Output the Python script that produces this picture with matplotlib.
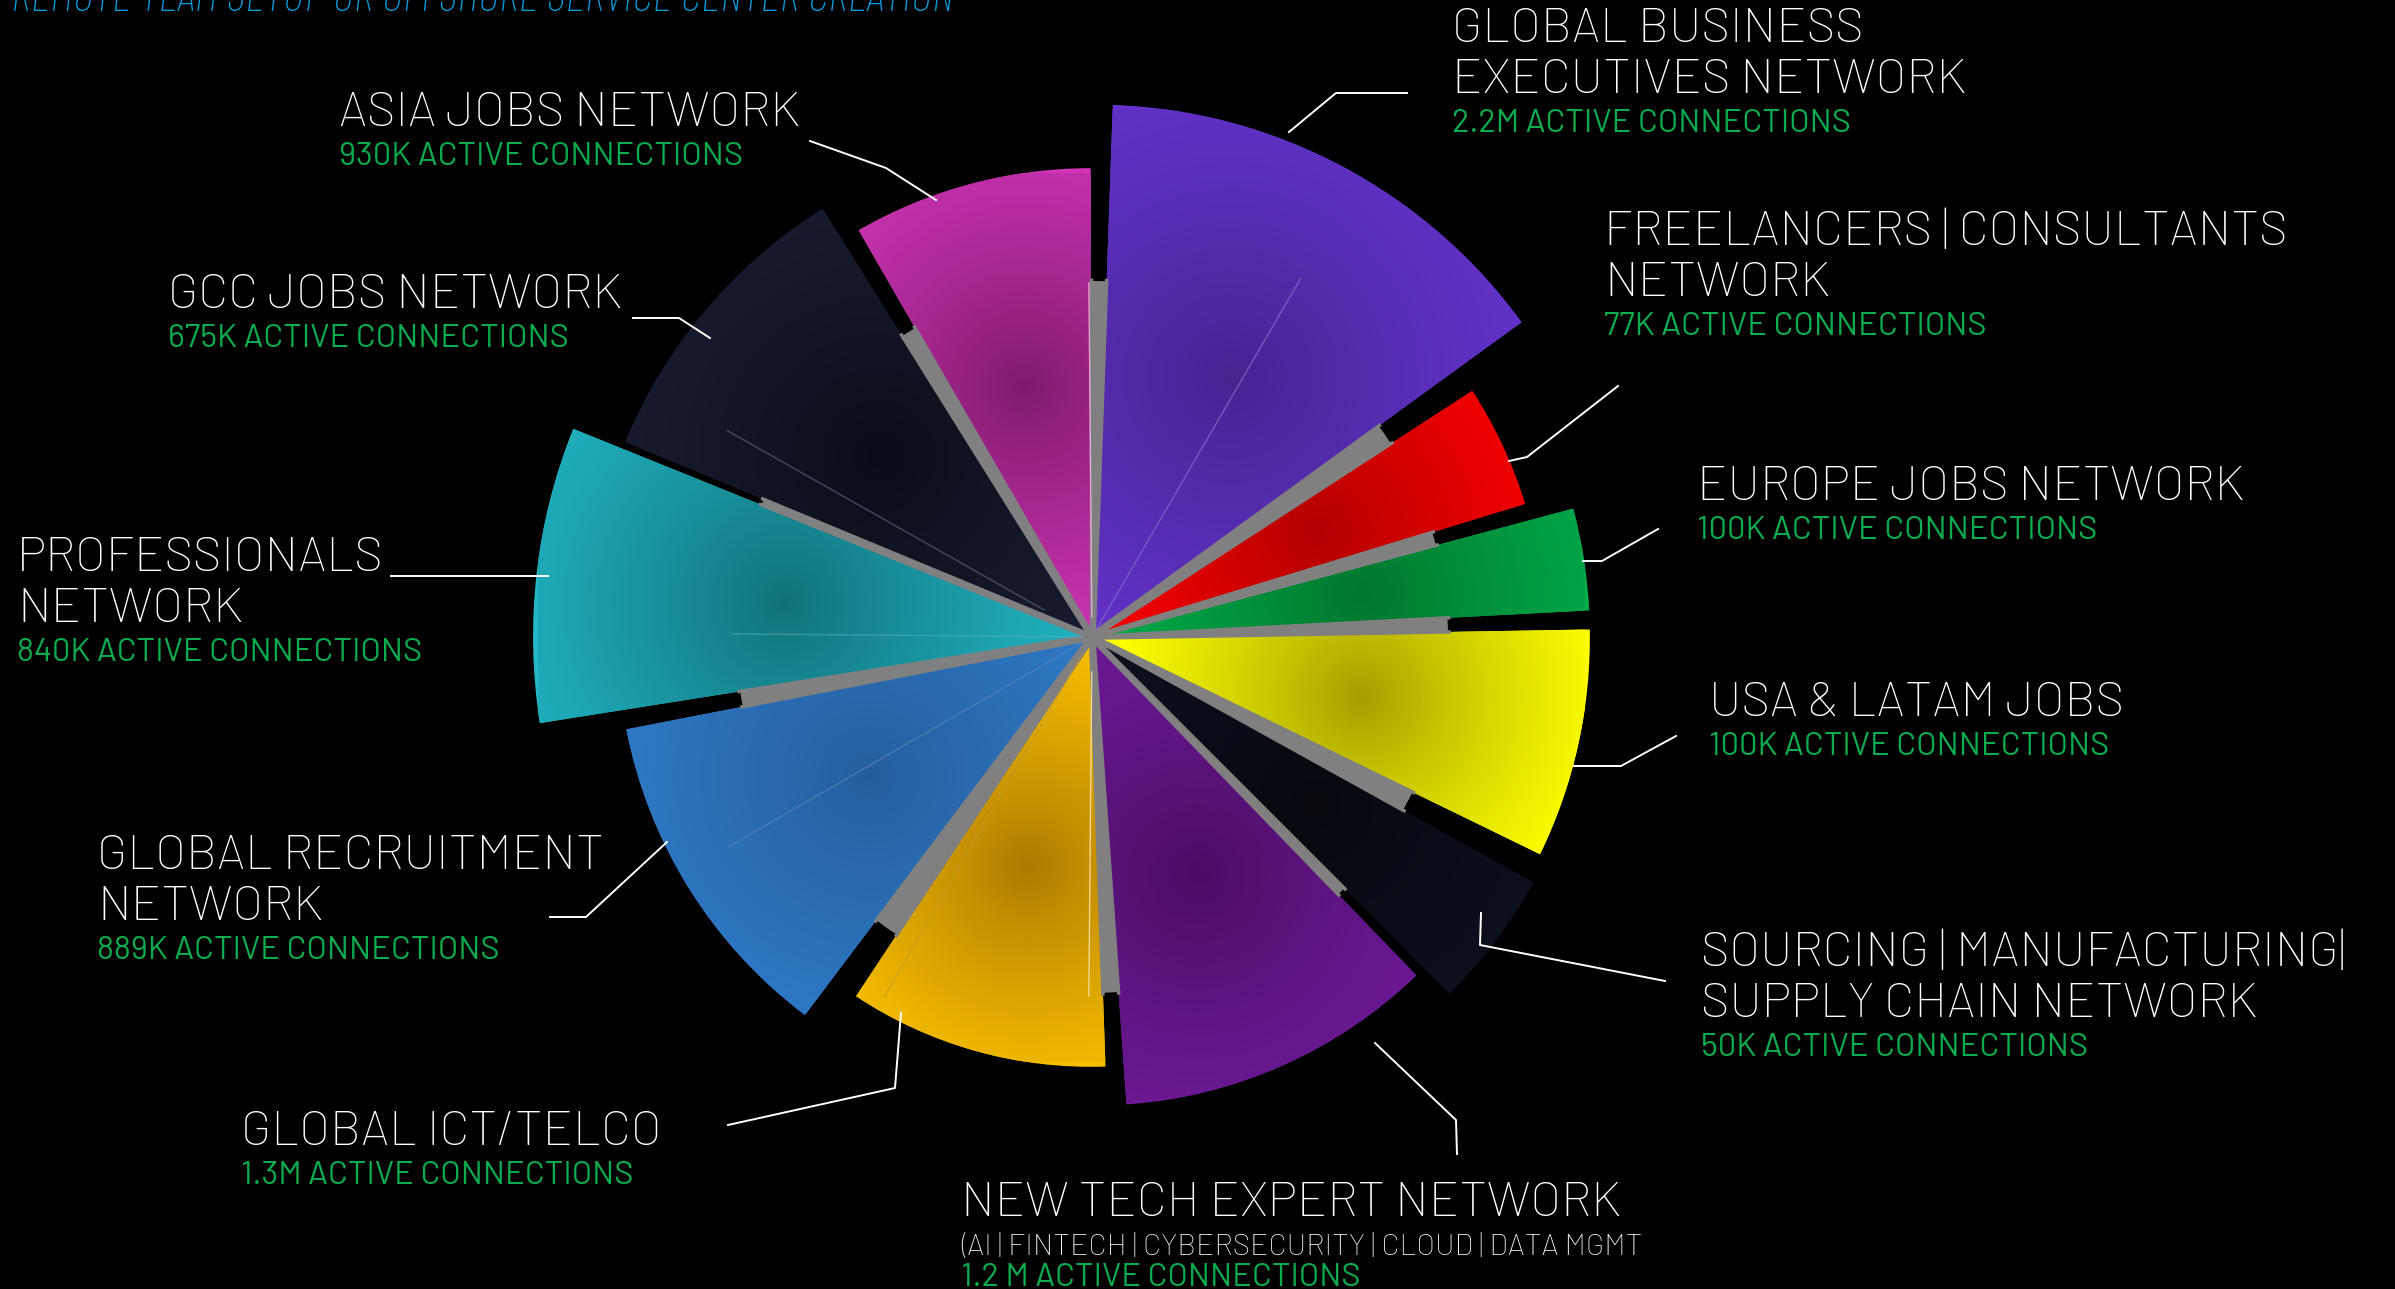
import numpy as np
import matplotlib
matplotlib.use('Agg')
import matplotlib.pyplot as plt
from matplotlib.patches import Wedge, Circle
from matplotlib.colors import to_rgb

W, H = 2395, 1289
CX, CY = 1092, H - 637

# ── Data ──────────────────────────────────────────────────────
networks = [
    'GLOBAL BUSINESS\nEXECUTIVES NETWORK',
    'FREELANCERS | CONSULTANTS\nNETWORK',
    'EUROPE JOBS NETWORK',
    'USA & LATAM JOBS',
    'SOURCING | MANUFACTURING|\nSUPPLY CHAIN NETWORK',
    'NEW TECH EXPERT NETWORK',
    'GLOBAL ICT/TELCO',
    'GLOBAL RECRUITMENT\nNETWORK',
    'PROFESSIONALS\nNETWORK',
    'GCC JOBS NETWORK',
    'ASIA JOBS NETWORK',
]
connections = [
    '2.2M ACTIVE CONNECTIONS', '77K ACTIVE CONNECTIONS',
    '100K ACTIVE CONNECTIONS', '100K ACTIVE CONNECTIONS',
    '50K ACTIVE CONNECTIONS', '1.2 M ACTIVE CONNECTIONS',
    '1.3M ACTIVE CONNECTIONS', '889K ACTIVE CONNECTIONS',
    '840K ACTIVE CONNECTIONS', '675K ACTIVE CONNECTIONS',
    '930K ACTIVE CONNECTIONS',
]
newtech_sub = '(AI | FINTECH | CYBERSECURITY | CLOUD | DATA MGMT'
top_line = 'REMOTE TEAM SETUP OR OFFSHORE SERVICE CENTER CREATION'

# angular extent in degrees, clockwise from 12 o'clock
wedge_start = [2, 57, 75, 89, 119, 136, 178, 217, 261, 292.5, 330]
wedge_end = [54, 73, 87, 116, 135, 176, 213.5, 259, 292, 328, 360]
wedge_radius = [528, 448, 493, 493, 500, 464, 425, 470, 554, 501, 464]
core_radius = 356

# faint spokes inside some wedges
spoke_angle = [30.2, 299.5, 270.5, 240, 359.5, 180.5, 210]
spoke_r0 = [10, 55, 10, 10, 20, 35, 20]
spoke_r1 = [415, 419, 360, 420, 354, 359, 415]

# ── Style ─────────────────────────────────────────────────────
BG = '#000000'
GREY = '#808080'
GREEN = '#0bab4f'
light = ['#6433cc', '#ff0000', '#00b04c', '#ffff00', '#0e1120', '#701a9a',
         '#f8c000', '#2f7bc8', '#22b8c8', '#1a1d33', '#d035b8']
dark = ['#45248f', '#b00000', '#00752f', '#a39c00', '#07090f', '#4a0d62',
        '#ad7800', '#255d9a', '#117078', '#0a0c16', '#7e1a6a']
spread = [0.6, 0.6, 0.6, 0.5, 0.6, 0.6, 0.55, 0.6, 0.6, 0.6, 0.6]
spoke_color = ['#8a6ad0', '#55586a', '#4fb0b8', '#5a8ac0', '#f0b0e0', '#f8e0a0', '#c89a30']
spoke_alpha = [0.7, 0.8, 0.6, 0.6, 0.9, 0.9, 0.6]

FONT = ['Barlow', 'Titillium Web', 'DejaVu Sans']
FONT_C = ['Barlow Condensed', 'Barlow', 'DejaVu Sans']

# label layout: x left, y centre of first line (pixels from top)
label_xy = [(1452, 30), (1604, 233), (1697, 488), (1709, 704), (1701, 954),
            (961, 1204), (241, 1133), (97, 857), (17, 559), (168, 296), (339, 114)]
leaders = [
    [(1289, 132), (1336, 93), (1407, 93)],
    [(1509, 461), (1527, 457), (1618, 386)],
    [(1583, 561), (1602, 561), (1658, 529)],
    [(1574, 766), (1621, 766), (1676, 736)],
    [(1481, 913), (1480, 945), (1665, 981)],
    [(1375, 1043), (1456, 1120), (1457, 1154)],
    [(901, 1013), (895, 1088), (728, 1125)],
    [(667, 842), (586, 917), (550, 917)],
    [(391, 576), (548, 576)],
    [(633, 318), (679, 318), (710, 338)],
    [(810, 141), (886, 168), (936, 200)],
]

fig = plt.figure(figsize=(W / 100, H / 100), dpi=100, facecolor=BG)
ax = fig.add_axes([0, 0, 1, 1])
ax.set_facecolor(BG)
ax.set_xlim(0, W)
ax.set_ylim(0, H)
ax.axis('off')


def polar(a_deg, r, cx=CX, cy=CY):
    t = np.deg2rad(90 - a_deg)
    return cx + r * np.cos(t), cy + r * np.sin(t)


# grey core behind the wedges
ax.add_patch(Circle((CX, CY), core_radius, facecolor=GREY, edgecolor='none', zorder=1))

for i in range(len(networks)):
    a0, a1, R = wedge_start[i], wedge_end[i], wedge_radius[i]
    mid = (a0 + a1) / 2
    ox, oy = polar(mid, 5)
    wd = Wedge((ox, oy), R, 90 - a1, 90 - a0, facecolor=light[i], edgecolor='none', zorder=2)
    ax.add_patch(wd)
    # radial shading around a spot on the bisector
    sx, sy = polar(mid, 0.56 * R)
    xs = np.linspace(CX - R, CX + R, 300)
    ys = np.linspace(CY - R, CY + R, 300)
    gx, gy = np.meshgrid(xs, ys)
    d = np.clip(np.hypot(gx - sx, gy - sy) / (spread[i] * R), 0, 1) ** 0.85
    c0, c1 = np.array(to_rgb(dark[i])), np.array(to_rgb(light[i]))
    img = c0 + (c1 - c0) * d[..., None]
    im = ax.imshow(img, extent=(CX - R, CX + R, CY - R, CY + R), origin='lower',
                   interpolation='bilinear', zorder=3)
    im.set_clip_path(wd)
    # grey seams along the straight edges inside the core
    for a in (a0, a1):
        ex, ey = polar(a, core_radius - 2, ox, oy)
        ax.plot([ox, ex], [oy, ey], color=GREY, lw=2.5, solid_capstyle='butt', zorder=3.5)

for j in range(len(spoke_angle)):
    x0, y0 = polar(spoke_angle[j], spoke_r0[j])
    x1, y1 = polar(spoke_angle[j], spoke_r1[j])
    ax.plot([x0, x1], [y0, y1], color=spoke_color[j], lw=1.0, alpha=spoke_alpha[j], zorder=4)

# ── Labels ────────────────────────────────────────────────────
for i in range(len(networks)):
    pts = leaders[i]
    ax.plot([p[0] for p in pts], [H - p[1] for p in pts], color='white', lw=1.4, zorder=5)
    x, y = label_xy[i]
    lines = networks[i].split('\n')
    for k, line in enumerate(lines):
        ax.text(x, H - (y + 51 * k), line, color='white', fontsize=35.5, family=FONT,
                fontweight='light', ha='left', va='center', zorder=6)
    y_last = y + 51 * (len(lines) - 1)
    if i == 5:
        ax.text(x, H - 1247, newtech_sub, color='#f2f2f2', fontsize=21.5, family=FONT,
                fontweight='light', ha='left', va='center', zorder=6)
        ax.text(x, H - 1278, connections[i], color=GREEN, fontsize=23.5, family=FONT,
                ha='left', va='center', zorder=6)
    else:
        ax.text(x, H - (y_last + 43), connections[i], color=GREEN, fontsize=23.5,
                family=FONT, ha='left', va='center', zorder=6)

ax.text(11, H - 11, top_line, color='#00a0e0', fontsize=34, style='italic',
        family=FONT_C, fontweight='light', ha='left', va='baseline', zorder=6)

fig.savefig('out.png', dpi=100, facecolor=BG)
